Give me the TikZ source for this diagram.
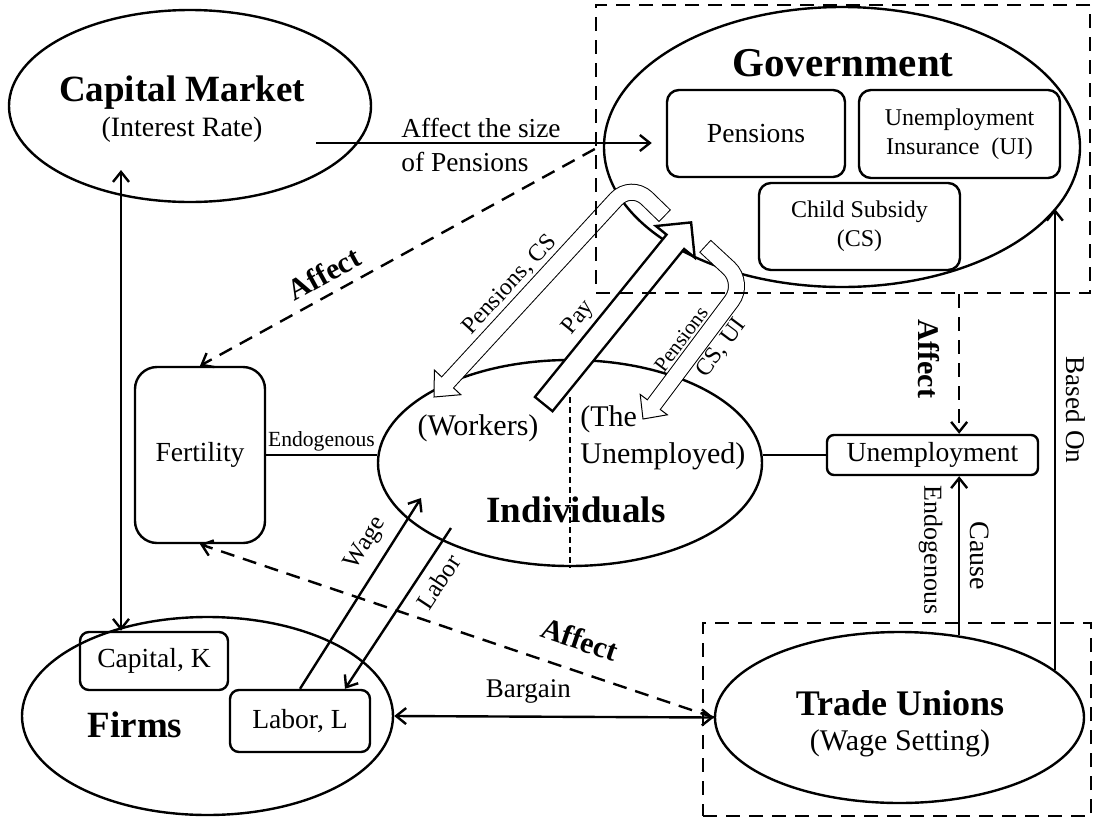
\documentclass[tikz,border=0pt]{standalone}
\usepackage{fontspec}
\setmainfont{Liberation Serif}
\usetikzlibrary{shapes.geometric,arrows.meta}

\newcommand{\fsz}[2]{\fontsize{#1}{#2}\selectfont}

\tikzset{
  ell/.style={draw, ellipse, line width=1.2pt, inner sep=0pt},
  rbox/.style={draw, rounded corners=6pt, line width=1.2pt, align=center, inner sep=0pt, font=\fsz{13.8}{16}},
  dashbox/.style={draw, line width=1.2pt, dash pattern=on 7pt off 4.5pt},
  arr/.style={line width=1.2pt, -{Straight Barb[length=5pt,width=8pt]}},
  darr/.style={line width=1.2pt, {Straight Barb[length=5pt,width=8pt]}-{Straight Barb[length=5pt,width=8pt]}},
  dasharr/.style={arr, dash pattern=on 7pt off 4.5pt},
  title/.style={font=\bfseries\fsz{18.5}{22}, inner sep=0pt},
  txt/.style={font=\fsz{14}{17}, inner sep=0pt},
  btxt/.style={font=\bfseries\fsz{15}{18}, inner sep=0pt},
  stxt/.style={font=\fsz{12}{14}, inner sep=0pt},
}

\begin{document}
\begin{tikzpicture}[x=0.5pt, y=-0.5pt]
\useasboundingbox (0,0) rectangle (1099,820);

\node[ell, minimum width=238pt, minimum height=140pt] (gov) at (842,147) {};
\node[title, font=\bfseries\fsz{20.5}{24}] (govt) at (843,63) {Government};
\node[rbox, minimum width=89pt, minimum height=43.5pt] (pens) at (756,133.5) {Pensions};
\node[rbox, minimum width=100.5pt, minimum height=44pt, font=\fsz{12}{14.5}] (ui) at (959.5,134) {Unemployment\\Insurance\ \ (UI)};
\node[rbox, minimum width=100.5pt, minimum height=43.5pt, font=\fsz{12}{14.5}] (cs) at (859.5,226.5) {Child Subsidy\\(CS)};

\node[ell, minimum width=181pt, minimum height=96pt] (capm) at (190,106) {};
\node[title] (capmt) at (182,93) {Capital Market};
\node[txt] (capms) at (182,130) {(Interest Rate)};

\node[rbox, rounded corners=11pt, minimum width=65pt, minimum height=88pt] (fert) at (200,455) {Fertility};

\node[ell, minimum width=192pt, minimum height=103pt] (ind) at (570,463) {};
\node[txt, font=\fsz{15}{18}] (work) at (478,428) {(Workers)};
\node[txt, font=\fsz{15}{18.5}, align=left, anchor=west] (unemd) at (580,438) {(The\\Unemployed)};
\node[title] (indt) at (576,510) {Individuals};

\node[rbox, rounded corners=3.5pt, minimum width=105.5pt, minimum height=20pt] (unemp) at (932.5,455) {Unemployment};

\node[ell, minimum width=185.5pt, minimum height=99pt] (firms) at (207.5,716) {};
\node[rbox, rounded corners=4.5pt, minimum width=74pt, minimum height=29pt] (capk) at (154,661) {Capital, K};
\node[rbox, rounded corners=4.5pt, minimum width=70pt, minimum height=31pt] (labl) at (300,721) {Labor, L};
\node[title] (firmt) at (135,725) {Firms};

\node[dashbox, minimum width=194pt, minimum height=96.5pt] (tubox) at (897,719.5) {};
\node[ell, minimum width=184.5pt, minimum height=85.5pt] (tu) at (899.5,717.5) {};
\node[title, font=\bfseries\fsz{18}{21}] (tut) at (900,703) {Trade Unions};
\node[txt, font=\fsz{15}{18}] (tus) at (900,743) {(Wage Setting)};

\coordinate (capr) at (316,143);
\draw[arr, shorten >=7pt] (capr) -- (capr -| pens.west);
\node[txt, font=\fsz{13.7}{17}, align=left, anchor=west] (afftxt) at (401,145) {Affect the size\\of Pensions};

\coordinate (capd) at (121,170);
\draw[darr] (capd) -- (capd |- capk.north);

\draw[line width=1.2pt] (fert.east) -- (fert.east -| ind.west) node[stxt, font=\fsz{10.8}{13}, midway, above=1.5pt] {Endogenous};
\draw[line width=1.2pt] (unemp.west -| ind.east) -- (unemp.west);

\draw[darr] (firms.east) -- (tu.west) node[txt, font=\fsz{13.5}{16}, pos=0.42, above=6pt] {Bargain};
\draw[dasharr] (tu.west) -- (fert.south);
\path (fert.south) -- (tu.west) node[btxt, sloped, pos=0.72, above=10pt] {Affect};

\coordinate (wtip) at (421,498);
\draw[arr] (labl.north) -- (wtip) node[stxt, font=\fsz{12.5}{15}, sloped, pos=0.7, above=5pt] {Wage};
\coordinate (lfrom) at (451,528);
\draw[arr] (lfrom) -- ([xshift=22.5pt]labl.north);
\path ([xshift=22.5pt]labl.north) -- (lfrom) node[stxt, font=\fsz{12.5}{15}, sloped, pos=0.73, below=5pt] {Labor};

\coordinate (divtop) at (570,397);
\draw[line width=0.6pt, dash pattern=on 3pt off 2pt] (divtop) -- (ind.south);

% Pay
\coordinate (ptail) at (543,405);
\coordinate (phb) at (675.3,241.8);
\coordinate (pw1) at (655.9,226.0);
\coordinate (ptip) at (691.1,222.4);
\coordinate (pw2) at (694.7,257.6);
\filldraw[fill=white, line width=1.2pt] (pw1) -- (ptip) -- (pw2) -- cycle;
\draw[line width=12.5pt] (ptail) -- (phb);
\draw[white, line width=10pt, shorten <=1.25pt, shorten >=-1.5pt] (ptail) -- (phb);
\path (ptail) -- (phb) node[stxt, sloped, pos=0.43, above=8pt] {Pay};

% Pensions, CS
\coordinate (ate) at (665,216);
\coordinate (ac) at (631,183);
\coordinate (ahb) at (447.6,382.4);
\coordinate (atip) at (434,397);
\coordinate (aw1) at (460.8,394.7);
\coordinate (aw2) at (434.4,370.1);
\filldraw[fill=white, line width=0.5pt] (aw1) -- (atip) -- (aw2) -- cycle;
\draw[line width=8.5pt, rounded corners=11pt] (ate) -- (ac) -- (ahb);
\draw[white, line width=7.5pt, rounded corners=11pt, shorten <=0.5pt, shorten >=-1pt] (ate) -- (ac) -- (ahb);
\path (atip) -- (ac) node[stxt, sloped, pos=0.46, above=5pt] {Pensions, CS};

% Pensions / CS, UI
\coordinate (cte) at (705,246);
\coordinate (cc) at (745,283);
\coordinate (chb) at (653.8,404.6);
\coordinate (ctip) at (643,419);
\coordinate (cw1) at (667.4,414.8);
\coordinate (cw2) at (640.2,394.4);
\filldraw[fill=white, line width=0.5pt] (cw1) -- (ctip) -- (cw2) -- cycle;
\draw[line width=8.5pt, rounded corners=11pt] (cte) -- (cc) -- (chb);
\draw[white, line width=7.5pt, rounded corners=11pt, shorten <=0.5pt, shorten >=-1pt] (cte) -- (cc) -- (chb);
\path (ctip) -- (cc) node[stxt, font=\fsz{10.5}{12}, sloped, pos=0.51, above=5pt] {Pensions}
  node[stxt, sloped, pos=0.61, below=5pt] {CS, UI};

\node[dashbox, minimum width=247pt, minimum height=144pt] (govbox) at (843,149) {};
\draw[dasharr] (govbox.west) -- (fert.north);
\path (fert.north) -- (govbox.west) node[btxt, sloped, pos=0.34, above=5pt] {Affect};

\draw[dasharr] (tu.54 |- govbox.south) -- (tu.54 |- unemp.north);
\node[btxt, rotate=-90] (affv) at (929,359) {Affect};
\draw[arr] (tu.54) -- (tu.54 |- unemp.south);
\node[txt, rotate=-90] (cause) at (980,556) {Cause};
\node[txt, font=\fsz{13}{16}, rotate=-90] (endov) at (930.5,550) {Endogenous};
\draw[arr] (tu.17) -- (tu.17 |- gov.-16);
\node[txt, font=\fsz{13.6}{16}, rotate=-90] (based) at (1076,410) {Based On};
\end{tikzpicture}
\end{document}
